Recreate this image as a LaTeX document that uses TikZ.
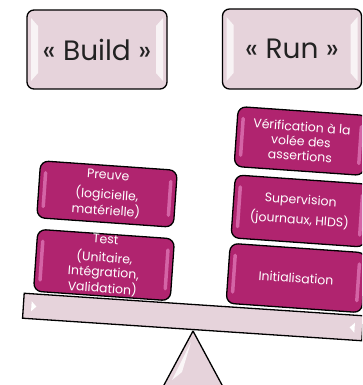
\documentclass[tikz,border=0pt]{standalone}
\usepackage{fontspec}
\setmainfont{Poppins}
\usetikzlibrary{calc}

\definecolor{plum}{HTML}{B0246F}
\definecolor{blush}{HTML}{E6D3DB}
\definecolor{plumshine}{HTML}{EC8FCB}
\definecolor{ink}{HTML}{222222}

\tikzset{
  outline/.style={draw=black, line width=1.3pt},
  pale/.style={outline, fill=blush, rounded corners=7pt, text=ink, inner sep=0pt,
    font=\fontsize{28}{30}\selectfont},
  block/.style={outline, fill=plum, rounded corners=8pt, text=white, align=center,
    inner sep=0pt, font=\fontsize{12.5}{14.6}\selectfont},
  % glossy bars inside the side edges of a magenta block
  pics/gloss/.style 2 args={code={
    \fill[plumshine, fill opacity=0.6, rounded corners=1.6pt]
      (-#1/2+4,-#2/2+10) rectangle (-#1/2+7.5,#2/2-10);
    \fill[plumshine, fill opacity=0.6, rounded corners=1.6pt]
      (#1/2-7.5,-#2/2+10) rectangle (#1/2-4,#2/2-10);
  }},
  % bevel highlights of a pale label
  pics/bevel/.style 2 args={code={
    \fill[white, fill opacity=0.75]
      (-#1/2+4,-#2/2+8) -- (-#1/2+11,-#2/2+16) -- (-#1/2+11,#2/2-16) -- (-#1/2+4,#2/2-8) -- cycle;
    \fill[white, fill opacity=0.75]
      (#1/2-4,-#2/2+8) -- (#1/2-11,-#2/2+16) -- (#1/2-11,#2/2-16) -- (#1/2-4,#2/2-8) -- cycle;
  }}
}

\begin{document}
\begin{tikzpicture}[x=1pt, y=-1pt]
\useasboundingbox (0,0) rectangle (362,385);
\clip (0,0) rectangle (362,385);

% headings
\node[pale, minimum width=140, minimum height=79] (build) at (97,49.5) {« Build »};
\pic at (build.center) {bevel={140}{79}};
\node[pale, minimum width=139, minimum height=80] (run) at (292,49) {« Run »};
\pic at (run.center) {bevel={139}{80}};

% fulcrum
\filldraw[outline, fill=blush, line join=round] (193,331) -- (158.6,395) -- (227.4,395) -- cycle;
\fill[white, fill opacity=0.8] (191,342) -- (172,380) -- (182,372) -- cycle;

% beam
\begin{scope}[shift={(193,317)}, rotate=-3.8, transform shape]
  \node[outline, fill=blush, minimum width=340, minimum height=25, inner sep=0pt] (beam) {};
  \fill[white] (-162,-5) -- (-157,0) -- (-162,5) -- cycle;
  \fill[white] (162,-5) -- (157,0) -- (162,5) -- cycle;
\end{scope}

% left pan
\begin{scope}[shift={(104,265)}, rotate=-4, transform shape]
  \node[block, minimum width=137, minimum height=62] (test)
    {Test\\[4pt](Unitaire,\\Intégration,\\Validation)};
  \pic {gloss={137}{62}};
\end{scope}
\begin{scope}[shift={(107,194)}, rotate=-4, transform shape]
  \node[block, minimum width=137, minimum height=57] (preuve)
    {Preuve\\[5pt](logicielle,\\matérielle)};
  \pic {gloss={137}{57}};
\end{scope}

% right pan
\begin{scope}[shift={(296,278)}, rotate=-4, transform shape]
  \node[block, minimum width=136, minimum height=60] (init) {Initialisation};
  \pic {gloss={136}{60}};
\end{scope}
\begin{scope}[shift={(300,211)}, rotate=-4, transform shape]
  \node[block, minimum width=134, minimum height=63] (superv)
    {Supervision\\[4pt](journaux, HIDS)};
  \pic {gloss={134}{63}};
\end{scope}
\begin{scope}[shift={(301,141)}, rotate=-4, transform shape]
  \node[block, minimum width=130, minimum height=60] (verif)
    {Vérification à la\\volée des\\assertions};
  \pic {gloss={130}{60}};
\end{scope}
\end{tikzpicture}
\end{document}
